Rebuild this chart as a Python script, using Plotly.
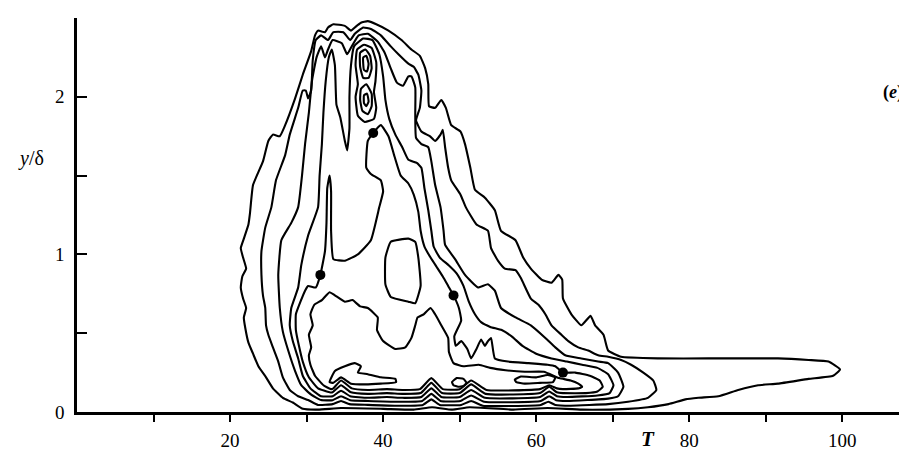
import plotly.graph_objects as go

# ---- data (T, y/delta) ----
C1 = [(29.5,0.02),(28.2,0.06),(26.9,0.09),(25.6,0.15),(24.7,0.22),(23.7,0.29),(23.0,0.37),(22.4,0.44),(22.0,0.53),(21.8,0.60),(22.1,0.66),(21.7,0.72),(21.4,0.79),(21.6,0.86),(22.1,0.91),(21.7,0.98),(21.4,1.04),(21.8,1.10),(22.4,1.19),(22.6,1.26),(23.0,1.44),(24.3,1.59),(25.0,1.72),(25.6,1.76),(26.5,1.75),(27.2,1.82),(28.5,1.99),(29.5,2.14),(30.6,2.29),(31.1,2.39),(31.5,2.42),(32.4,2.41),(32.8,2.44),(33.5,2.46),(35.0,2.45),(35.8,2.42),(36.3,2.44),(37.1,2.47),(38.0,2.48),(39.1,2.46),(40.7,2.42),(42.4,2.36),(43.7,2.30),(44.8,2.26),(45.5,2.18),(45.9,2.08),(46.0,1.94),(46.8,1.93),(47.6,1.98),(48.2,1.93),(48.9,1.82),(50.1,1.78),(50.7,1.70),(51.4,1.55),(52.0,1.41),(53.3,1.36),(54.6,1.28),(55.4,1.15),(57.3,1.09),(58.3,0.98),(59.3,0.91),(60.7,0.84),(62.0,0.82),(62.9,0.87),(63.4,0.84),(63.5,0.72),(64.6,0.62),(65.9,0.55),(67.1,0.61),(67.7,0.55),(68.8,0.49),(69.4,0.39),(71.1,0.35),(75.9,0.34),(82.5,0.34),(91.6,0.34),(95.6,0.33),(98.2,0.32),(99.7,0.27),(98.8,0.23),(95.6,0.21),(91.6,0.18),(89.0,0.17),(86.4,0.14),(83.8,0.10),(81.2,0.09),(79.5,0.08),(77.3,0.05),(74.6,0.03),(72.0,0.02),(66.0,0.015),(61.5,0.025),(57.0,0.015),(51.3,0.03),(49.0,0.015),(46.4,0.03),(44.0,0.015),(40.0,0.02),(34.5,0.025),(31.5,0.015),(29.5,0.02)]

C2 = [(31.5,0.045),(30.2,0.076),(28.9,0.10),(27.8,0.14),(26.9,0.22),(26.3,0.32),(25.6,0.41),(25.0,0.49),(24.7,0.55),(24.6,0.66),(24.3,0.74),(24.1,0.87),(24.1,1.02),(24.6,1.17),(25.4,1.30),(26.0,1.47),(27.2,1.63),(27.8,1.76),(28.9,1.93),(29.5,2.04),(29.9,2.04),(30.2,1.99),(30.6,2.04),(30.8,2.23),(31.2,2.36),(31.9,2.39),(32.8,2.36),(33.5,2.41),(34.8,2.41),(35.7,2.36),(36.3,2.40),(37.4,2.44),(38.4,2.43),(39.7,2.39),(41.0,2.32),(42.0,2.27),(43.3,2.21),(44.0,2.19),(44.6,2.14),(45.0,2.04),(44.8,1.93),(44.3,1.85),(45.0,1.78),(46.1,1.75),(46.8,1.72),(47.5,1.76),(47.8,1.79),(48.1,1.68),(48.5,1.55),(48.9,1.47),(50.1,1.38),(50.8,1.30),(52.2,1.19),(53.7,1.15),(54.1,1.04),(55.0,0.96),(55.9,0.91),(57.3,0.90),(58.0,0.85),(59.3,0.72),(60.3,0.68),(61.2,0.62),(62.0,0.55),(63.3,0.49),(64.2,0.45),(65.5,0.41),(66.8,0.39),(68.1,0.36),(69.4,0.35),(71.1,0.33),(72.4,0.30),(74.0,0.25),(75.3,0.20),(75.7,0.14),(74.6,0.09),(72.0,0.065),(69.4,0.05),(64.5,0.04),(62.5,0.045),(61.6,0.065),(60.6,0.045),(53.0,0.04),(51.5,0.07),(50.2,0.045),(47.4,0.045),(46.3,0.08),(45.2,0.045),(41.5,0.04),(38.0,0.045),(35.6,0.05),(34.5,0.07),(33.4,0.05),(31.5,0.045)]

C3 = [(31.9,0.076),(30.6,0.11),(29.3,0.17),(28.5,0.26),(27.6,0.39),(26.9,0.51),(26.5,0.66),(26.3,0.87),(26.7,1.09),(28.0,1.20),(28.9,1.30),(29.4,1.50),(29.8,1.70),(30.3,1.90),(30.7,2.10),(31.3,2.25),(31.9,2.32),(32.4,2.25),(32.8,2.30),(33.4,2.36),(34.6,2.34),(35.3,2.27),(35.9,2.32),(36.8,2.39),(38.0,2.40),(39.3,2.35),(40.2,2.28),(41.0,2.18),(41.8,2.09),(42.6,2.07),(43.3,2.13),(43.7,2.13),(44.2,2.06),(44.2,1.89),(44.3,1.74),(45.0,1.70),(45.9,1.68),(46.3,1.59),(46.8,1.44),(47.5,1.30),(47.9,1.15),(48.1,1.06),(49.4,0.97),(50.7,0.87),(52.4,0.79),(53.7,0.81),(54.6,0.77),(55.4,0.66),(57.3,0.60),(59.3,0.55),(61.2,0.47),(62.5,0.41),(63.8,0.36),(65.9,0.34),(68.1,0.32),(69.4,0.31),(70.7,0.25),(71.4,0.16),(70.7,0.10),(69.4,0.085),(64.0,0.07),(62.6,0.075),(61.7,0.10),(60.6,0.07),(53.2,0.065),(51.5,0.105),(50.1,0.07),(47.5,0.07),(46.3,0.115),(45.1,0.07),(42.0,0.065),(38.0,0.07),(35.7,0.075),(34.5,0.10),(33.4,0.075),(31.9,0.076)]

C4 = [(31.9,0.10),(30.5,0.15),(29.5,0.23),(28.9,0.34),(28.2,0.45),(27.8,0.55),(28.0,0.66),(28.9,0.79),(29.3,0.93),(30.2,1.12),(31.5,1.30),(31.7,1.50),(32.0,1.70),(32.2,1.90),(32.5,2.10),(32.9,2.25),(33.3,2.30),(33.7,2.20),(33.9,1.95),(34.4,1.87),(35.0,1.72),(35.3,1.66),(35.6,1.80),(35.6,2.00),(35.8,2.20),(36.2,2.32),(37.4,2.37),(38.6,2.36),(39.5,2.27),(40.0,2.13),(40.3,1.98),(40.8,1.86),(41.6,1.76),(42.5,1.68),(43.3,1.60),(44.4,1.58),(45.0,1.55),(45.4,1.42),(45.9,1.28),(46.3,1.15),(46.6,1.05),(47.4,0.98),(48.6,0.93),(49.6,0.88),(50.5,0.80),(51.2,0.70),(52.0,0.62),(52.8,0.57),(54.0,0.54),(55.5,0.52),(56.8,0.48),(58.2,0.42),(60.0,0.37),(62.0,0.34),(64.0,0.32),(66.0,0.30),(68.0,0.28),(69.4,0.24),(70.1,0.17),(69.6,0.12),(68.0,0.105),(64.0,0.095),(62.7,0.10),(61.7,0.13),(60.5,0.095),(53.3,0.09),(51.5,0.14),(50.0,0.095),(47.6,0.095),(46.3,0.15),(45.0,0.095),(42.5,0.09),(40.5,0.095),(38.0,0.09),(35.7,0.10),(34.5,0.135),(33.4,0.10),(31.9,0.10)]

C5 = [(33.0,0.125),(31.5,0.15),(30.3,0.22),(29.5,0.32),(29.0,0.42),(28.6,0.52),(28.6,0.62),(29.2,0.70),(29.8,0.77),(30.2,0.80),(31.2,0.79),(31.8,0.87),(32.4,1.02),(32.6,1.20),(32.7,1.42),(33.0,1.50),(33.2,1.40),(33.2,1.15),(33.5,0.97),(35.0,0.96),(36.7,1.00),(38.4,1.09),(39.5,1.30),(40.0,1.40),(39.7,1.47),(38.4,1.51),(37.8,1.55),(38.0,1.72),(38.7,1.77),(39.7,1.82),(40.7,1.75),(41.5,1.62),(42.3,1.50),(43.3,1.45),(44.0,1.38),(44.6,1.27),(44.9,1.15),(45.4,1.05),(46.2,0.98),(47.0,0.92),(47.8,0.86),(48.5,0.80),(49.2,0.74),(49.9,0.66),(50.2,0.58),(49.3,0.48),(49.5,0.42),(50.2,0.45),(51.0,0.40),(51.5,0.34),(52.2,0.40),(52.8,0.46),(53.3,0.42),(53.7,0.45),(54.1,0.47),(54.6,0.34),(56.3,0.32),(59.0,0.31),(61.5,0.30),(62.5,0.29),(63.5,0.25),(65.1,0.25),(67.0,0.23),(68.3,0.20),(68.7,0.16),(68.0,0.13),(66.5,0.12),(63.5,0.12),(62.7,0.125),(61.7,0.16),(60.5,0.12),(53.4,0.115),(51.5,0.175),(50.0,0.12),(47.7,0.12),(46.3,0.185),(44.9,0.12),(42.5,0.115),(40.5,0.12),(38.0,0.115),(35.8,0.125),(34.5,0.17),(33.4,0.125),(33.0,0.125)]

C6 = [(33.2,0.145),(32.2,0.17),(31.1,0.23),(30.5,0.30),(30.3,0.36),(30.6,0.41),(30.3,0.49),(30.8,0.55),(30.5,0.62),(31.0,0.68),(32.0,0.71),(33.0,0.76),(33.7,0.74),(35.0,0.70),(36.0,0.71),(37.0,0.67),(38.0,0.66),(39.3,0.60),(39.2,0.52),(40.0,0.45),(41.6,0.40),(42.9,0.41),(43.7,0.47),(44.2,0.55),(44.5,0.60),(45.3,0.62),(46.2,0.66),(46.8,0.62),(47.6,0.55),(48.5,0.47),(48.6,0.38),(49.2,0.31),(50.5,0.29),(52.5,0.30),(54.0,0.28),(56.0,0.265),(58.5,0.255),(61.0,0.255),(63.0,0.215),(64.5,0.20),(65.5,0.18),(66.0,0.16),(65.5,0.15),(63.5,0.145),(62.7,0.15),(61.7,0.17),(60.5,0.145),(53.5,0.14),(51.5,0.20),(50.0,0.145),(47.8,0.145),(46.3,0.215),(44.8,0.145),(42.5,0.14),(40.5,0.145),(38.0,0.14),(35.9,0.15),(34.5,0.20),(33.5,0.15),(33.2,0.145)]

C7_lobe = [(33.0,0.19),(33.7,0.26),(35.0,0.29),(36.3,0.31),(37.1,0.29),(36.7,0.25),(38.0,0.24),(39.7,0.22),(41.6,0.21),(41.7,0.19),(39.7,0.18),(37.6,0.175),(35.8,0.18),(34.5,0.22),(33.5,0.185),(33.0,0.19)]

pocket = [(43.3,1.10),(44.2,1.08),(44.6,0.98),(44.9,0.80),(44.2,0.69),(43.3,0.70),(41.0,0.73),(40.3,0.81),(40.3,0.98),(41.0,1.08),(43.3,1.10)]
island_small = [(49.0,0.19),(49.6,0.215),(50.5,0.21),(50.9,0.185),(50.5,0.165),(49.8,0.16),(49.2,0.17),(49.0,0.19)]
island_long = [(57.2,0.205),(58.0,0.225),(60.0,0.22),(61.5,0.235),(62.5,0.22),(62.2,0.19),(60.5,0.185),(58.5,0.18),(57.4,0.19),(57.2,0.205)]

top_outer = [(36.6,2.30),(37.5,2.33),(38.5,2.31),(39.1,2.22),(39.0,2.10),(38.8,2.03),(39.1,1.93),(38.8,1.86),(37.6,1.84),(36.7,1.88),(36.4,2.00),(36.7,2.08),(36.4,2.20),(36.6,2.30)]
top_loop_a = [(37.0,2.28),(37.7,2.30),(38.3,2.26),(38.5,2.18),(38.1,2.12),(37.4,2.12),(37.0,2.19),(37.0,2.28)]
top_loop_a2 = [(37.4,2.25),(37.8,2.26),(38.1,2.21),(37.9,2.16),(37.5,2.17),(37.4,2.25)]
top_loop_b = [(37.1,2.05),(37.8,2.08),(38.5,2.02),(38.5,1.94),(38.0,1.89),(37.3,1.91),(37.0,1.98),(37.1,2.05)]
top_loop_b2 = [(37.5,2.01),(37.9,2.02),(38.1,1.97),(37.8,1.94),(37.5,1.96),(37.5,2.01)]

dots_T = [31.8, 38.7, 49.2, 63.5]
dots_y = [0.87, 1.77, 0.74, 0.25]

x_tickvals = [10, 20, 30, 40, 50, 60, 70, 80, 90, 100]
x_ticktext = ["", "20", "", "40", "", "60", "", "80", "", "100"]
y_tickvals = [0, 0.5, 1, 1.5, 2, 2.5]
y_ticktext = ["0", "", "1", "", "2", ""]

contours = [C1, C2, C3, C4, C5, C6, C7_lobe, pocket, island_small, island_long,
            top_outer, top_loop_a, top_loop_a2, top_loop_b, top_loop_b2]

fig = go.Figure()
for c in contours:
    fig.add_trace(go.Scatter(
        x=[p[0] for p in c], y=[p[1] for p in c], mode="lines",
        line=dict(color="black", width=2.1, shape="spline", smoothing=0.4),
        hoverinfo="skip"))

fig.add_trace(go.Scatter(x=dots_T, y=dots_y, mode="markers",
                         marker=dict(color="black", size=10)))

serif = "Liberation Serif, Times New Roman, serif"
fig.update_layout(
    width=907, height=451,
    margin=dict(l=69, r=0, t=10, b=47, autoexpand=False),
    paper_bgcolor="white", plot_bgcolor="white",
    showlegend=False,
    font=dict(family=serif, color="black"),
    xaxis=dict(range=[0, 109.5], showline=True, linecolor="black", linewidth=2.5,
               ticks="outside", ticklen=7, tickwidth=2, tickcolor="black",
               tickvals=x_tickvals, ticktext=x_ticktext, automargin=False,
               tickfont=dict(family=serif, size=19, color="black"),
               showgrid=False, zeroline=False, ticklabelstandoff=2),
    yaxis=dict(range=[0, 2.5], showline=True, linecolor="black", linewidth=2.5,
               ticks="inside", ticklen=10, tickwidth=2, tickcolor="black",
               tickvals=y_tickvals, ticktext=y_ticktext, automargin=False,
               tickfont=dict(family=serif, size=19, color="black"),
               showgrid=False, zeroline=False, ticklabelstandoff=6),
    annotations=[
        dict(text="<i>y</i>/δ", xref="paper", yref="y", x=-0.055, y=1.61,
             xanchor="center", yanchor="middle",
             showarrow=False, font=dict(family=serif, size=20, color="black")),
        dict(text="<b><i>T</i></b>", xref="x", yref="paper", x=74.6, y=-0.103,
             xanchor="center", yanchor="bottom",
             showarrow=False, font=dict(family=serif, size=21, color="black")),
        dict(text="<b>(<i>e</i>)</b>", xref="paper", yref="y", x=0.988, y=2.03,
             xanchor="right", yanchor="middle",
             showarrow=False, font=dict(family=serif, size=18, color="black")),
    ],
)

fig.write_html("out.html")
